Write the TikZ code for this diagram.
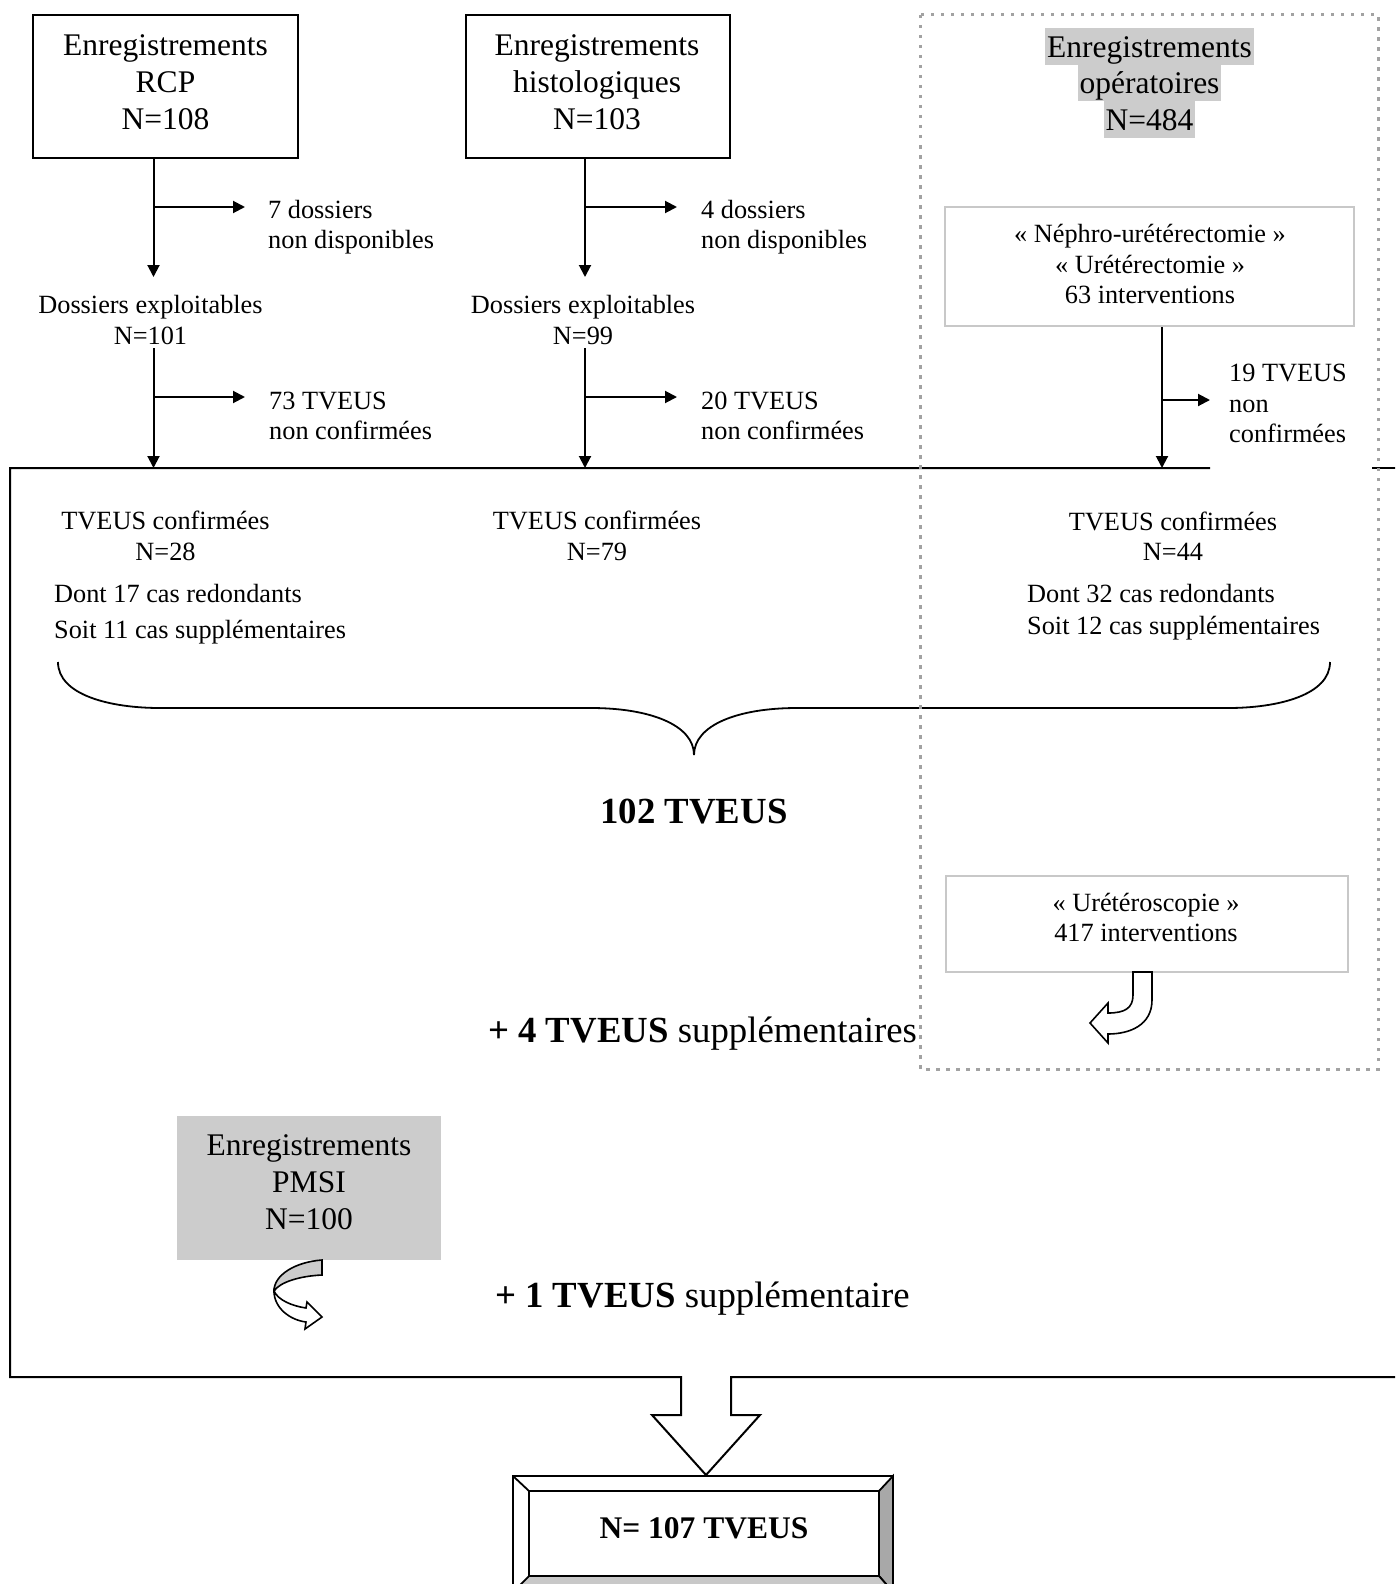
\documentclass[tikz,border=0pt]{standalone}
\usepackage{fontspec}
\setmainfont{Liberation Serif}
\usetikzlibrary{arrows.meta}
\definecolor{hl}{HTML}{CCCCCC}
\definecolor{dotgray}{HTML}{A2A2A2}
\definecolor{frameg}{HTML}{C8C8C8}
\definecolor{bevR}{HTML}{A8A8A8}
\definecolor{bevB}{HTML}{C8C8C8}
\newcommand\fbig{\fontsize{31.5pt}{36.8pt}\selectfont}
\newcommand\fsmall{\fontsize{26.3pt}{30.5pt}\selectfont}
\newcommand\fhuge{\fontsize{36.8pt}{42pt}\selectfont}
\tikzset{
  blk/.style={line width=2pt},
  arr/.style={line width=2pt,-{Triangle[width=12pt,length=12pt]}},
  topbox/.style={draw,line width=2pt,inner sep=0pt},
  lbox/.style={draw=frameg,line width=2pt,inner sep=0pt},
  bigtxt/.style={font=\fbig,align=center,inner sep=0pt},
  smtxt/.style={font=\fsmall,inner sep=0pt},
  hltxt/.style={font=\fbig,fill=hl,inner xsep=2pt,inner ysep=0pt,text height=29.5pt,text depth=7.5pt,anchor=base},
  plustxt/.style={font=\fhuge,inner sep=0pt,anchor=base west},
  shapeline/.style={line width=1.6pt},
}
\begin{document}
\begin{tikzpicture}[x=1pt,y=-1pt]
\useasboundingbox (0,0) rectangle (1395,1584);
\clip (0,0) rectangle (1395,1584);

% big frame with down arrow
\draw[blk] (1210,468) -- (10,468) -- (10,1377) -- (681,1377) -- (681,1415) -- (652,1415) -- (706,1475) -- (760,1415) -- (731,1415) -- (731,1377) -- (1400,1377);
\draw[blk] (1372,468) -- (1400,468);

% top boxes
\node[topbox,minimum width=265pt,minimum height=143pt] (rcp) at (165.5,86.5) {};
\node[bigtxt] (rcpt) at (165.5,82) {Enregistrements\\RCP\\N=108};
\node[topbox,minimum width=264pt,minimum height=143pt] (his) at (598,86.5) {};
\node[bigtxt] (hist) at (597,82) {Enregistrements\\histologiques\\N=103};

\node[hltxt] (op1) at (1149.5,57.5) {Enregistrements};
\node[hltxt] (op2) at (1149.5,94) {opératoires};
\node[hltxt] (op3) at (1149.5,130.5) {N=484};

\node[lbox,minimum width=409pt,minimum height=119pt] (neph) at (1149.5,266.5) {};
\node[smtxt,align=center] (nepht) at (1150,264) {« Néphro-urétérectomie »\\« Urétérectomie »\\63 interventions};

% RCP column
\coordinate (r1) at (153.5,277);
\coordinate (r1b) at (153.5,207);
\coordinate (r1e) at (245,207);
\coordinate (r2s) at (153.5,348);
\coordinate (r2e) at (153.5,468);
\coordinate (r2b) at (153.5,397);
\coordinate (r2f) at (245,397);
\draw[arr] (rcp.south -| r1) -- (r1);
\draw[arr] (r1b) -- (r1e);
\draw[arr] (r2s) -- (r2e);
\draw[arr] (r2b) -- (r2f);
\node[smtxt,align=left,anchor=west] (rn1) at (268,227.4) {7 dossiers\\non disponibles};
\node[smtxt,align=center] (rex) at (150.5,320) {Dossiers exploitables\\N=101};
\node[smtxt,align=left,anchor=west] (rn2) at (269,416) {73 TVEUS\\non confirmées};

% histo column
\coordinate (h1) at (585,277);
\coordinate (h1b) at (585,207);
\coordinate (h1e) at (677,207);
\coordinate (h2s) at (585,348);
\coordinate (h2e) at (585,468);
\coordinate (h2b) at (585,397);
\coordinate (h2f) at (677,397);
\draw[arr] (his.south -| h1) -- (h1);
\draw[arr] (h1b) -- (h1e);
\draw[arr] (h2s) -- (h2e);
\draw[arr] (h2b) -- (h2f);
\node[smtxt,align=left,anchor=west] (hn1) at (701,227.4) {4 dossiers\\non disponibles};
\node[smtxt,align=center] (hex) at (583,320) {Dossiers exploitables\\N=99};
\node[smtxt,align=left,anchor=west] (hn2) at (701,416) {20 TVEUS\\non confirmées};

% operatoire column
\coordinate (o1) at (1162,468);
\coordinate (o1b) at (1162,400);
\coordinate (o1e) at (1210,400);
\draw[arr] (neph.south -| o1) -- (o1);
\draw[arr] (o1b) -- (o1e);
\node[smtxt,align=left,anchor=west] (on) at (1229,403.5) {19 TVEUS\\non\\confirmées};

% confirmed
\node[smtxt,align=center] (rc) at (165.5,536) {TVEUS confirmées\\N=28};
\node[smtxt,align=left,anchor=west] (rd) at (54,613.9) {Dont 17 cas redondants\\[5.5pt]Soit 11 cas supplémentaires};
\node[smtxt,align=center] (hc) at (597,536) {TVEUS confirmées\\N=79};
\node[smtxt,align=center] (oc) at (1173,536) {TVEUS confirmées\\N=44};
\node[smtxt,align=left,anchor=west] (od) at (1027,612.4) {Dont 32 cas redondants\\[1.5pt]Soit 12 cas supplémentaires};

% brace
\draw[line width=1.8pt] (58,662) .. controls (58,695) and (110,708) .. (160,708) -- (591,708) .. controls (650,708) and (694,725) .. (694,755) .. controls (694,725) and (738,708) .. (797,708) -- (1228,708) .. controls (1278,708) and (1330,695) .. (1330,662);

\node[font=\fhuge\bfseries,inner sep=0pt,anchor=base] (tot) at (694,823) {102 TVEUS};

% ureteroscopie
\node[lbox,minimum width=402pt,minimum height=96pt] (ure) at (1147,924) {};
\node[smtxt,align=center] (uret) at (1146,917.5) {« Urétéroscopie »\\417 interventions};
\draw[shapeline,fill=white] (1133,972) -- (1152,972) -- (1152,1000) .. controls (1152,1025) and (1130,1034) .. (1108,1034) -- (1108,1043) -- (1090,1023) -- (1108,1003) -- (1108,1013) .. controls (1125,1013) and (1133,1008) .. (1133,995) -- cycle;

\node[plustxt] (plus4) at (488,1042) {\textbf{+ 4 TVEUS} supplémentaires};

% PMSI
\node[fill=hl,inner sep=0pt,minimum width=264pt,minimum height=144pt] (pmsi) at (309,1188) {};
\node[bigtxt] (pmsit) at (309,1182) {Enregistrements\\PMSI\\N=100};
\filldraw[shapeline,fill=hl] (322,1260) .. controls (295,1262) and (274,1275) .. (274,1291) .. controls (280,1282) and (300,1276) .. (322,1275) -- cycle;
\filldraw[shapeline,fill=white] (274,1291) .. controls (274,1308) and (290,1320) .. (306,1322) -- (305,1329) -- (322,1317) -- (307,1302) -- (306,1308) .. controls (292,1306) and (278,1300) .. (274,1291) -- cycle;

\node[plustxt] (plus1) at (495,1307) {\textbf{+ 1 TVEUS} supplémentaire};

% final bevel box
\fill[white] (513,1476) rectangle (893,1592);
\filldraw[line width=1.8pt,fill=bevR] (893,1476) -- (879,1491) -- (879,1576) -- (893,1592) -- cycle;
\filldraw[line width=1.8pt,fill=bevB] (513,1592) -- (529,1576) -- (879,1576) -- (893,1592) -- cycle;
\draw[line width=1.8pt] (513,1476) rectangle (893,1592);
\draw[line width=1.8pt] (513,1476) -- (529,1491);
\node[draw,line width=1.8pt,inner sep=0pt,minimum width=350pt,minimum height=85pt,font=\fbig\bfseries,text height=21pt,text depth=12pt] (final) at (704,1533.5) {N= 107 TVEUS};

% dotted frame
\draw[dotgray,line width=3pt,dash pattern=on 3.5pt off 6.5pt] (920,15) rectangle (1378,1069);
\end{tikzpicture}
\end{document}
